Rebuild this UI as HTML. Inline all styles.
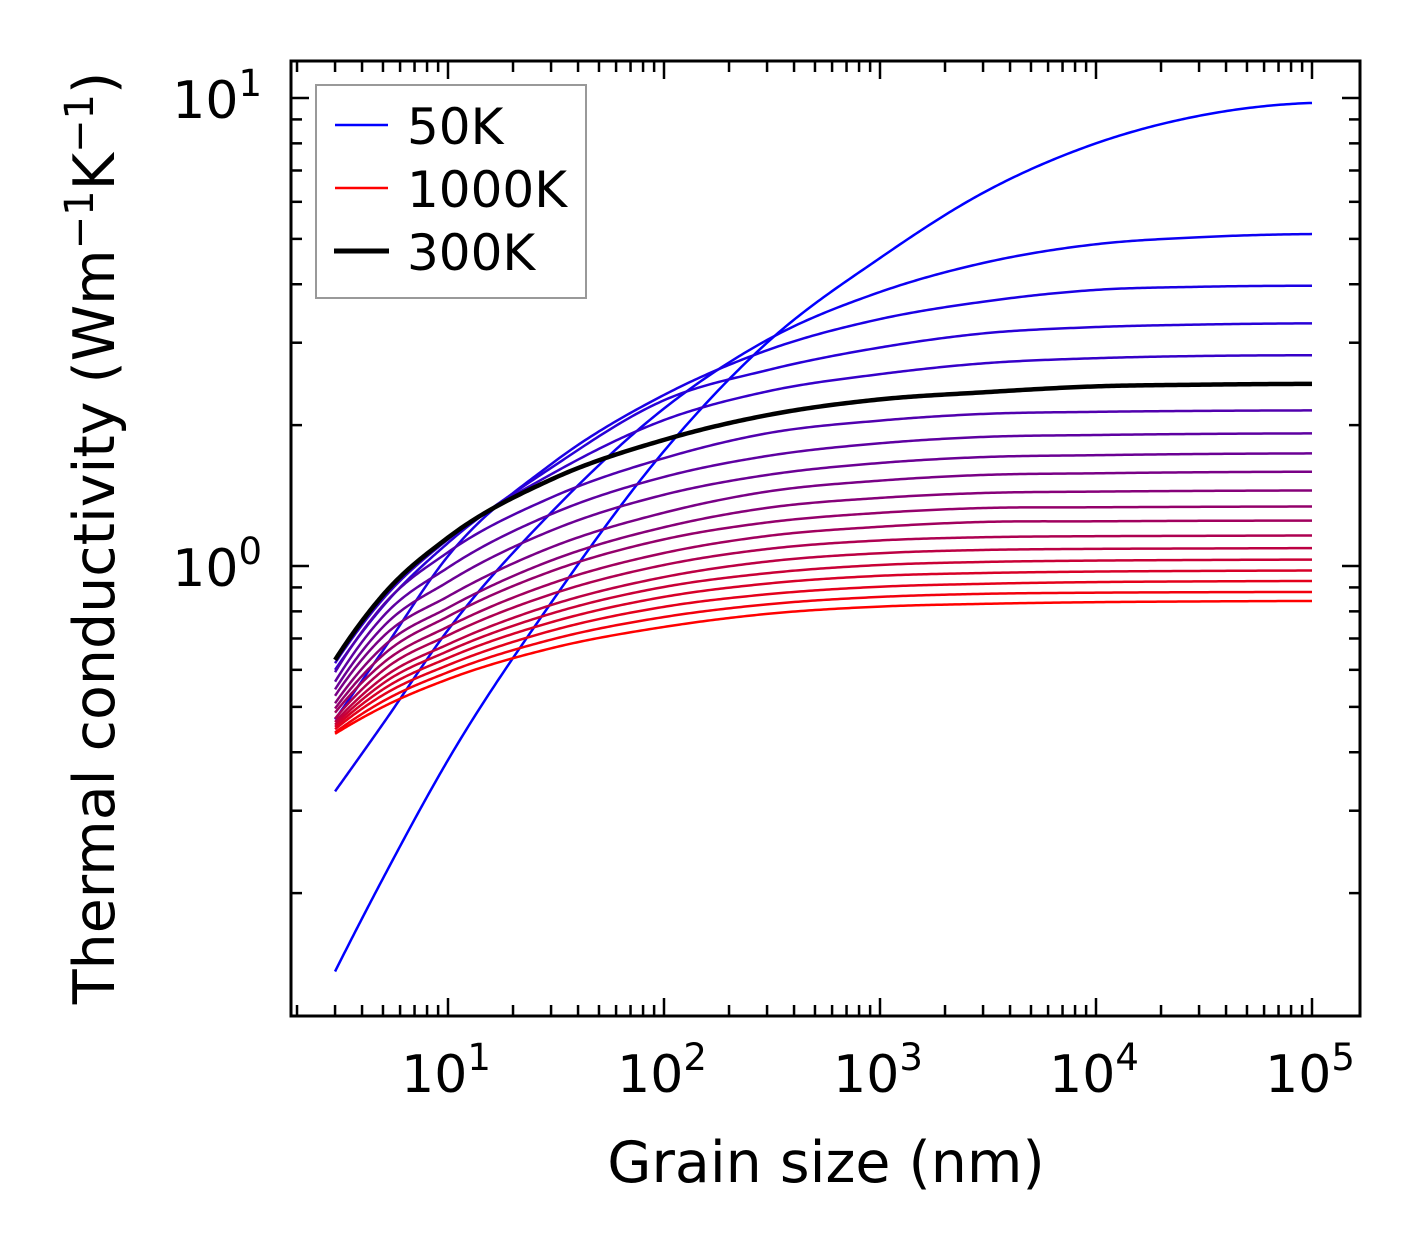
<!DOCTYPE html>
<html><head><meta charset="utf-8"><style>
body{margin:0;background:#fff}
svg text{font-family:"DejaVu Sans","Liberation Sans",sans-serif;fill:#000}
</style></head><body>
<svg id="chart" width="1421" height="1254" viewBox="0 0 1421 1254" xmlns="http://www.w3.org/2000/svg">
<rect width="1421" height="1254" fill="#fff"/>
<g id="curves"></g>
<g id="ticks"></g>
<rect x="291" y="61" width="1069" height="955" fill="none" stroke="#000" stroke-width="3"/>
<g id="labels"></g>
<text x="826" y="1182" font-size="57" text-anchor="middle">Grain size (nm)</text>
<text transform="translate(114,538) rotate(-90)" font-size="57" text-anchor="middle">Thermal conductivity (Wm<tspan dy="-21" font-size="40">−1</tspan><tspan dy="21">K</tspan><tspan dy="-21" font-size="40">−1</tspan><tspan dy="21">)</tspan></text>
<g>
<rect x="316" y="85" width="270" height="213" fill="#fff" stroke="#999" stroke-width="2"/>
<line x1="335" y1="125" x2="388" y2="125" stroke="#0000ff" stroke-width="2.5"/>
<text x="407" y="144" font-size="50">50K</text>
<line x1="335" y1="188" x2="388" y2="188" stroke="#ff0000" stroke-width="2.5"/>
<text x="407" y="207" font-size="50">1000K</text>
<line x1="334" y1="251" x2="389" y2="251" stroke="#000" stroke-width="5"/>
<text x="407" y="270" font-size="50">300K</text>
</g>
</svg>
<script>
const grainSizes = [3, 5, 10, 30, 100, 300, 1000, 3000, 10000, 30000, 100000];
const temperatures = [50,100,150,200,250,300,350,400,450,500,550,600,650,700,750,800,850,900,950,1000];
const k50 = [0.136,0.215,0.385,0.834,1.76,3.0,4.55,6.27,8.0,9.16,9.76];
const k100 = [0.33,0.46,0.73,1.30,2.17,3.04,3.85,4.44,4.87,5.04,5.12];
const k150 = [0.47,0.66,1.05,1.65,2.32,2.89,3.37,3.67,3.89,3.95,3.97];
const k200 = [0.60,0.82,1.12,1.62,2.26,2.62,2.93,3.14,3.24,3.28,3.30];
const k250 = [0.62,0.85,1.14,1.57,2.05,2.36,2.57,2.71,2.78,2.81,2.82];
const k300 = [0.63,0.867,1.15,1.53,1.86,2.10,2.27,2.35,2.42,2.44,2.45];
const k350 = [0.593,0.824,1.07,1.40,1.70,1.921,2.045,2.113,2.135,2.145,2.15];
const k400 = [0.566,0.780,0.992,1.29,1.55,1.718,1.829,1.887,1.905,1.915,1.92];
const k450 = [0.545,0.741,0.925,1.19,1.42,1.565,1.660,1.709,1.725,1.735,1.74];
const k500 = [0.528,0.706,0.861,1.096,1.30,1.442,1.522,1.565,1.578,1.586,1.59];
const k550 = [0.509,0.672,0.814,1.027,1.21,1.331,1.398,1.432,1.442,1.447,1.45];
const k600 = [0.496,0.645,0.780,0.974,1.14,1.239,1.299,1.330,1.335,1.338,1.34];
const k650 = [0.486,0.620,0.742,0.917,1.066,1.159,1.213,1.242,1.246,1.249,1.25];
const k700 = [0.472,0.598,0.711,0.870,1.005,1.087,1.134,1.152,1.158,1.160,1.162];
const k750 = [0.464,0.577,0.680,0.825,0.947,1.022,1.065,1.082,1.088,1.090,1.092];
const k800 = [0.458,0.561,0.658,0.791,0.902,0.965,1.005,1.020,1.027,1.030,1.032];
const k850 = [0.453,0.545,0.636,0.758,0.859,0.917,0.953,0.966,0.973,0.976,0.978];
const k900 = [0.448,0.530,0.614,0.727,0.818,0.870,0.903,0.916,0.924,0.927,0.929];
const k950 = [0.441,0.514,0.593,0.696,0.778,0.828,0.859,0.872,0.877,0.879,0.880];
const k1000 = [0.438,0.500,0.573,0.667,0.741,0.790,0.819,0.830,0.837,0.840,0.842];
const series = [k50,k100,k150,k200,k250,k300,k350,k400,k450,k500,k550,k600,k650,k700,k750,k800,k850,k900,k950,k1000];
const xTickLabels = ['1','2','3','4','5'];
const yTickLabels = ['0','1'];

const NS='http://www.w3.org/2000/svg';
const xs = v => 448 + (Math.log10(v) - 1) * 216;
const ys = v => 566 - Math.log10(v) * 468;

// cubic Hermite interpolation in log-log space with three-point tangents, sampled densely
function pathFor(arr){
  const u = grainSizes.map(g=>Math.log10(g));
  const w = arr.map(v=>Math.log10(v));
  const n = u.length;
  const h=[], s=[];
  for(let i=0;i<n-1;i++){ h.push(u[i+1]-u[i]); s.push((w[i+1]-w[i])/h[i]); }
  const m=new Array(n);
  for(let i=1;i<n-1;i++){ m[i]=(h[i]*s[i-1]+h[i-1]*s[i])/(h[i-1]+h[i]); }
  m[0]=2*s[0]-m[1]; m[n-1]=2*s[n-2]-m[n-2];
  if(m[n-1]<0) m[n-1]=0;
  let d='';
  for(let i=0;i<n-1;i++){
    const N=40;
    for(let k=(i===0?0:1);k<=N;k++){
      const t=k/N, t2=t*t, t3=t2*t;
      const val=(2*t3-3*t2+1)*w[i]+(t3-2*t2+t)*h[i]*m[i]+(-2*t3+3*t2)*w[i+1]+(t3-t2)*h[i]*m[i+1];
      const uu=u[i]+t*h[i];
      const X=xs(Math.pow(10,uu)), Y=ys(Math.pow(10,val));
      d+=(d===''?'M':'L')+X.toFixed(2)+','+Y.toFixed(2);
    }
  }
  return d;
}
const cg=document.getElementById('curves');
let blackPath=null;
series.forEach((arr,j)=>{
  const el=document.createElementNS(NS,'path');
  el.setAttribute('d',pathFor(arr));
  const r=Math.round(255*j/19), b=255-r;
  const isBlack = temperatures[j]===300;
  el.setAttribute('stroke', isBlack ? '#000' : `rgb(${r},0,${b})`);
  el.setAttribute('stroke-width', isBlack ? 4.5 : 2.5);
  el.setAttribute('fill','none');
  el.setAttribute('stroke-linejoin','round');
  
  
  if(isBlack) blackPath=el; else cg.appendChild(el);
});
if(blackPath) cg.appendChild(blackPath);

const tg=document.getElementById('ticks');
function line(x1,y1,x2,y2,name){
  const l=document.createElementNS(NS,'line');
  l.setAttribute('x1',x1);l.setAttribute('y1',y1);l.setAttribute('x2',x2);l.setAttribute('y2',y2);
  l.setAttribute('stroke','#000');l.setAttribute('stroke-width',2.5);
  
  
  tg.appendChild(l);
}
for(let e=0;e<=5;e++){
  for(let m=1;m<10;m++){
    const v=m*Math.pow(10,e); const x=xs(v);
    if(x<292||x>1359) continue;
    const L = m===1?18:11;
    line(x,1016,x,1016-L,'x-tick'); line(x,61,x,61+L,'x-tick-top');
  }
}
for(let e=-1;e<=1;e++){
  for(let m=1;m<10;m++){
    const v=m*Math.pow(10,e); const y=ys(v);
    if(y<62||y>1015) continue;
    const L = m===1?18:11;
    line(291,y,291+L,y,'y-tick'); line(1360,y,1360-L,y,'y-tick-right');
  }
}
const lg=document.getElementById('labels');
xTickLabels.forEach(e=>{
  const t=document.createElementNS(NS,'text');
  t.setAttribute('x',xs(Math.pow(10,+e))-2);t.setAttribute('y',1092);
  t.setAttribute('font-size','52');t.setAttribute('text-anchor','middle');
  
  
  t.innerHTML='10<tspan dy="-22" font-size="37">'+e+'</tspan>';
  lg.appendChild(t);
});
yTickLabels.forEach(e=>{
  const t=document.createElementNS(NS,'text');
  t.setAttribute('x',262);t.setAttribute('y',ys(Math.pow(10,+e))+20);
  t.setAttribute('font-size','52');t.setAttribute('text-anchor','end');
  
  
  t.innerHTML='10<tspan dy="-22" font-size="37">'+e+'</tspan>';
  lg.appendChild(t);
});
</script>
</body></html>
